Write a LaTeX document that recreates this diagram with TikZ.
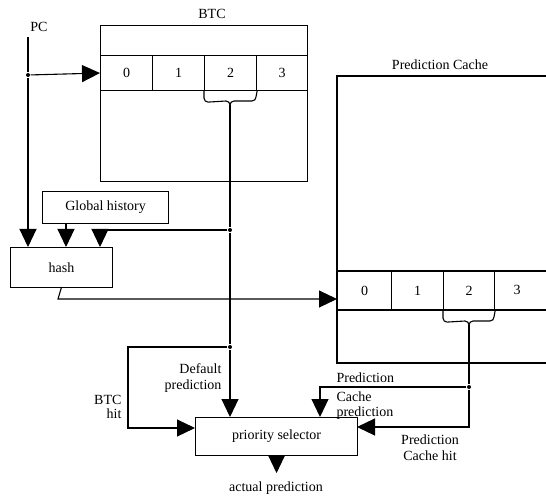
\documentclass[tikz,border=0pt]{standalone}
\usepackage{fontspec}
\setmainfont{Liberation Serif}
\usetikzlibrary{arrows.meta}
\begin{document}
\begin{tikzpicture}[x=1pt,y=-1pt,line width=1.1pt,
  arr/.style={-{Triangle[length=18pt,width=17pt]}},
  box/.style={draw,rectangle,inner sep=0pt},
  lbl/.style={font=\fontsize{14}{16}\selectfont,inner sep=0pt},
  dot/.style={circle,fill,inner sep=0pt,minimum size=4pt}]
\useasboundingbox (0,0) rectangle (546,497);
% BTC
\node[box,minimum width=207pt,minimum height=156pt,anchor=north west] (btc) at (100,25) {};
\node[lbl] (btcl) at (212,14) {BTC};
\node[box,minimum width=52pt,minimum height=35pt,anchor=north west] (b0) at (100,55) {};
\node[box,minimum width=52pt,minimum height=35pt,anchor=north west] (b1) at (152,55) {};
\node[box,minimum width=52pt,minimum height=35pt,anchor=north west] (b2) at (204,55) {};
\node[box,minimum width=51pt,minimum height=35pt,anchor=north west] (b3) at (256,55) {};
\node[lbl] at (b0) {0};\node[lbl] at (b1) {1};\node[lbl] at (b2) {2};\node[lbl] at (b3) {3};
% PC
\node[lbl] (pcl) at (39,27) {PC};
\coordinate (pctop) at (28,37);
\node[dot] (pcd) at (28,75) {};
% Global history & hash
\node[box,minimum width=126pt,minimum height=32pt,anchor=north west] (gh) at (42,191) {};
\node[lbl] at (gh) {Global history};
\node[box,minimum width=102pt,minimum height=40pt,anchor=north west] (hash) at (10,247) {};
\node[lbl] at (hash) {hash};
% Prediction cache (open on the right)
\draw (546,76) -- (337,76) coordinate (pctl) -- (337,363) -- (546,363);
\node[lbl] (pcachel) at (440,65) {Prediction Cache};
\draw (337,271) -- (546,271) (337,310) -- (546,310);
\node[box,minimum width=54pt,minimum height=39pt,anchor=north west] (p0) at (337,271) {};
\node[box,minimum width=52pt,minimum height=39pt,anchor=north west] (p1) at (391,271) {};
\node[box,minimum width=51pt,minimum height=39pt,anchor=north west] (p2) at (443,271) {};
\node[lbl] at (p0) {0};\node[lbl] at (p1) {1};\node[lbl] at (p2) {2};\node[lbl] at (517,290) {3};
% priority selector
\node[box,minimum width=162pt,minimum height=38pt,anchor=north west] (ps) at (195,417) {};
\node[lbl] at (ps) {priority selector};
% braces
\draw (b2.south west) -- ++(0,7) to[out=-90,in=180] ++(4,4) -- (226,101) to[out=0,in=90] (230,105) coordinate (bb)
      to[out=90,in=180] (234,101) -- (252,101) to[out=0,in=-90] (256,97) -- (b2.south east);
\draw (p2.south west) -- ++(0,7) to[out=-90,in=180] ++(4,4) -- (465,321) to[out=0,in=90] (469,325) coordinate (pb)
      to[out=90,in=180] (473,321) -- (490,321) to[out=0,in=-90] (494,317) -- (p2.south east);
% connectors
\draw (pctop) -- (pcd);
\draw[arr] (pcd) -- (b0.west);
\draw[arr] (pcd) -- (28,247);
\draw[arr] (66,223) -- (66,247);
\node[dot] (d1) at (230,230) {};
\node[dot] (d2) at (230,347) {};
\draw (bb) -- (d1);
\draw[arr] (d1) -| (100,247);
\draw (d1) -- (d2);
\draw[arr] (d2) -- (230,417);
\draw[arr] (d2) -| (128,428) -- (ps.west |- 0,428);
\draw[arr] (hash.south |- 0,287) -- (58,299) -- (337,299);
\node[dot] (d3) at (469,387) {};
\draw (pb) -- (d3);
\draw[arr] (d3) -| (320,417);
\draw[arr] (d3) |- (357,427);
\draw[arr] (ps.south) -- ++(0,17);
% labels
\node[lbl,anchor=east] at (222,369) {Default};
\node[lbl,anchor=east] at (222,386) {prediction};
\node[lbl,anchor=east] at (122,400) {BTC};
\node[lbl,anchor=east] at (122,414) {hit};
\node[lbl,anchor=west] at (336,378) {Prediction};
\node[lbl,anchor=west] at (336,397) {Cache};
\node[lbl,anchor=west] at (336,413) {prediction};
\node[lbl,align=center] at (430,448) {Prediction\\Cache hit};
\node[lbl] at (276,488) {actual prediction};
\end{tikzpicture}
\end{document}
